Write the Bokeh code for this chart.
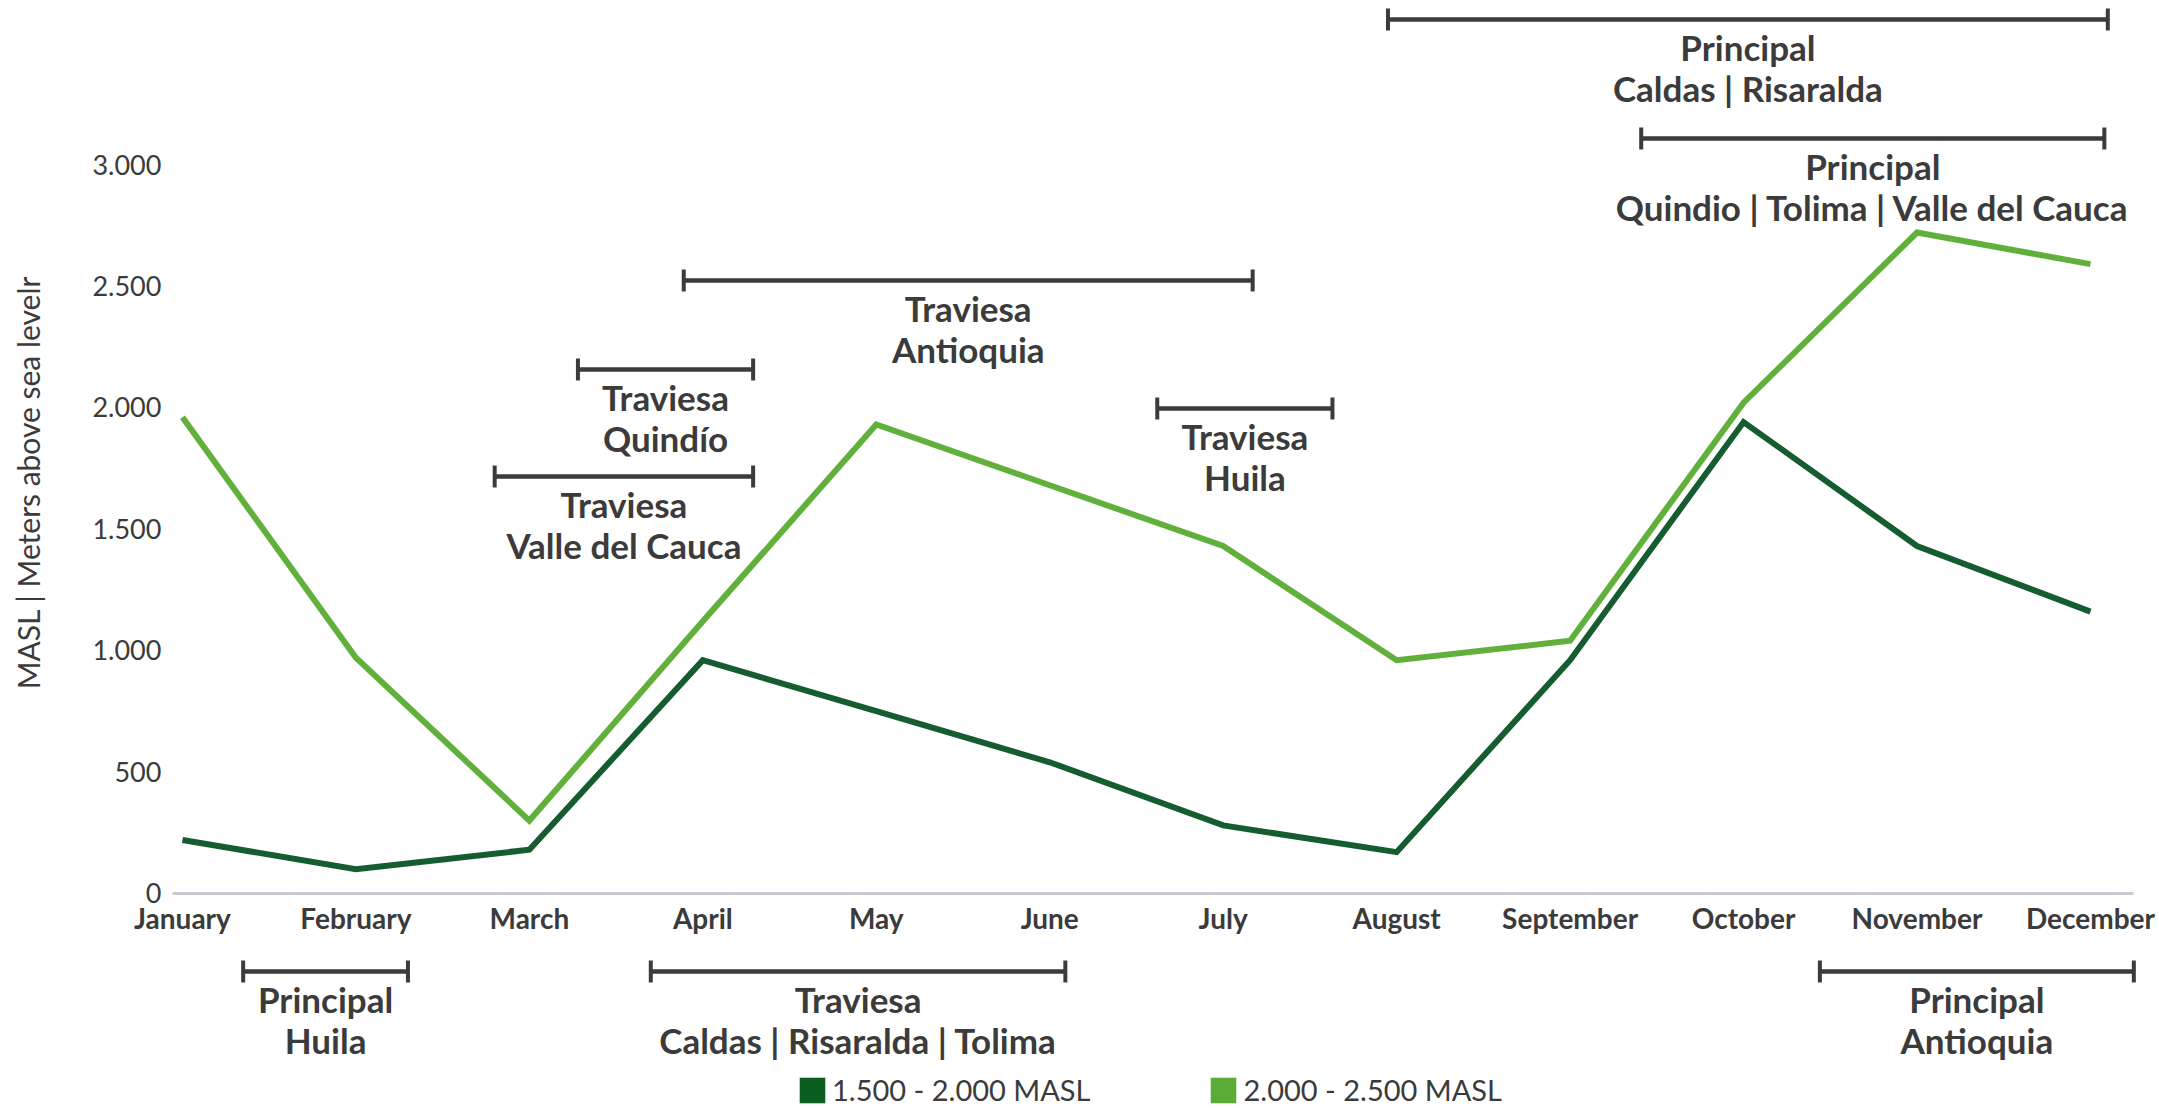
from math import pi
from bokeh.plotting import figure
from bokeh.models import Range1d, FixedTicker, Legend, LegendItem, ColumnDataSource
from bokeh.embed import file_html
from bokeh.resources import INLINE
from bokeh.core.properties import value

# ---------------- data ----------------
months = ["January", "February", "March", "April", "May", "June",
          "July", "August", "September", "October", "November", "December"]
series_names = ["1.500 - 2.000 MASL", "2.000 - 2.500 MASL"]
masl_1500_2000 = [220, 100, 180, 960, 750, 540, 280, 170, 960, 1940, 1430, 1160]
masl_2000_2500 = [1960, 970, 300, 1120, 1930, 1680, 1430, 960, 1040, 2020, 2720, 2590]
y_ticks = [0, 500, 1000, 1500, 2000, 2500, 3000]
y_title = "MASL | Meters above sea levelr"

# harvest periods (month positions, 0 = January)
period_kind = ["Principal", "Principal", "Traviesa", "Traviesa", "Traviesa",
               "Traviesa", "Principal", "Traviesa", "Principal"]
period_region = ["Caldas | Risaralda", "Quindio | Tolima | Valle del Cauca", "Antioquia",
                 "Quindío", "Valle del Cauca", "Huila", "Huila",
                 "Caldas | Risaralda | Tolima", "Antioquia"]
period_start = [6.95, 8.41, 2.89, 2.28, 1.80, 5.62, 0.35, 2.70, 9.44]
period_end = [11.10, 11.08, 6.17, 3.29, 3.29, 6.63, 1.30, 5.09, 11.25]

# ---------------- layout ----------------
W, H = 2159, 1108
X0, X1 = -1.049, 11.398
Y0, Y1 = -885, 3675
PX = (Y1 - Y0) / H                     # data units per screen pixel (vertical)
PXX = (X1 - X0) / W                    # data units per screen pixel (horizontal)
bracket_px = [19, 138, 280, 369, 476, 408, 971, 971, 971]   # screen y from top
bracket_level = [Y1 - v * PX for v in bracket_px]

DARK = "#155d30"
LIGHT = "#62b03c"
INK = "#3b3b3b"
FONT = "Lato"

p = figure(width=W, height=H, x_range=Range1d(X0, X1), y_range=Range1d(Y0, Y1),
           output_backend="svg", toolbar_location=None,
           min_border_left=0, min_border_right=0, min_border_top=0, min_border_bottom=0)
p.title.visible = False
p.outline_line_color = None
p.grid.visible = False
p.background_fill_color = "white"
p.border_fill_color = "white"

# y axis (drawn at the start of the baseline)
ya = p.yaxis[0]
ya.fixed_location = -0.058
ya.ticker = FixedTicker(ticks=y_ticks)
ya.major_label_overrides = {t: f"{t:,}".replace(",", ".") for t in y_ticks}
ya.axis_line_color = None
ya.major_tick_line_color = None
ya.minor_tick_line_color = None
ya.major_tick_out = 0
ya.major_tick_in = 0
ya.major_label_text_font = FONT
ya.major_label_text_font_size = "27px"
ya.major_label_text_color = INK
ya.major_label_standoff = 11

# x axis fixed at 0
xa = p.xaxis[0]
xa.fixed_location = 0
xa.bounds = (-0.058, 11.25)
xa.ticker = FixedTicker(ticks=list(range(len(months))))
xa.major_label_overrides = {i: m for i, m in enumerate(months)}
xa.axis_line_color = "#c9c9cf"
xa.axis_line_width = 3
xa.major_tick_line_color = None
xa.minor_tick_line_color = None
xa.major_tick_out = 0
xa.major_tick_in = 0
xa.major_label_text_font = FONT
xa.major_label_text_font_style = "bold"
xa.major_label_text_font_size = "28px"
xa.major_label_text_color = INK
xa.major_label_standoff = 8

# series
xs = list(range(len(months)))
p.line(xs, masl_2000_2500, line_color=LIGHT, line_width=6, line_join="miter")
p.line(xs, masl_1500_2000, line_color=DARK, line_width=6, line_join="miter")

# harvest period brackets
mid = [(a + b) / 2 for a, b in zip(period_start, period_end)]
cap = 11 * PX
src = ColumnDataSource(dict(
    x0=period_start, x1=period_end, y=bracket_level,
    ylo=[v - cap for v in bracket_level], yhi=[v + cap for v in bracket_level],
    xm=mid, t1=[v - 27 * PX for v in bracket_level], t2=[v - 68 * PX for v in bracket_level],
    kind=period_kind, region=period_region))
p.segment(x0="x0", y0="y", x1="x1", y1="y", source=src, line_color=INK, line_width=4.5)
p.segment(x0="x0", y0="ylo", x1="x0", y1="yhi", source=src, line_color=INK, line_width=4)
p.segment(x0="x1", y0="ylo", x1="x1", y1="yhi", source=src, line_color=INK, line_width=4)
for col, ycol in (("kind", "t1"), ("region", "t2")):
    p.text(x="xm", y=ycol, text=col, source=src, text_font=value(FONT), text_font_style="bold",
           text_font_size="35px", text_color=INK, text_align="center", text_baseline="middle")

# y axis title
p.text(x=[X0 + 27 * PXX], y=[Y1 - 482 * PX], text=[y_title], angle=pi / 2,
       text_font=value(FONT), text_font_size="30px", text_color=INK,
       text_align="center", text_baseline="middle")

# legend (square swatches)
nan = float("nan")
r_dark = p.quad(left=[nan], right=[nan], top=[nan], bottom=[nan], fill_color="#0b5e1e", line_color=None)
r_light = p.quad(left=[nan], right=[nan], top=[nan], bottom=[nan], fill_color="#5aab37", line_color=None)
legend = Legend(items=[LegendItem(label=series_names[0], renderers=[r_dark]),
                       LegendItem(label=series_names[1], renderers=[r_light])],
                orientation="horizontal", location=(796, 1), border_line_color=None,
                background_fill_alpha=0, glyph_width=32, glyph_height=32,
                label_text_font=FONT, label_text_font_size="29px", label_text_color=INK,
                spacing=117, padding=0, margin=0, label_standoff=4)
p.add_layout(legend, "center")

open("out.html", "w").write(file_html(p, INLINE))
